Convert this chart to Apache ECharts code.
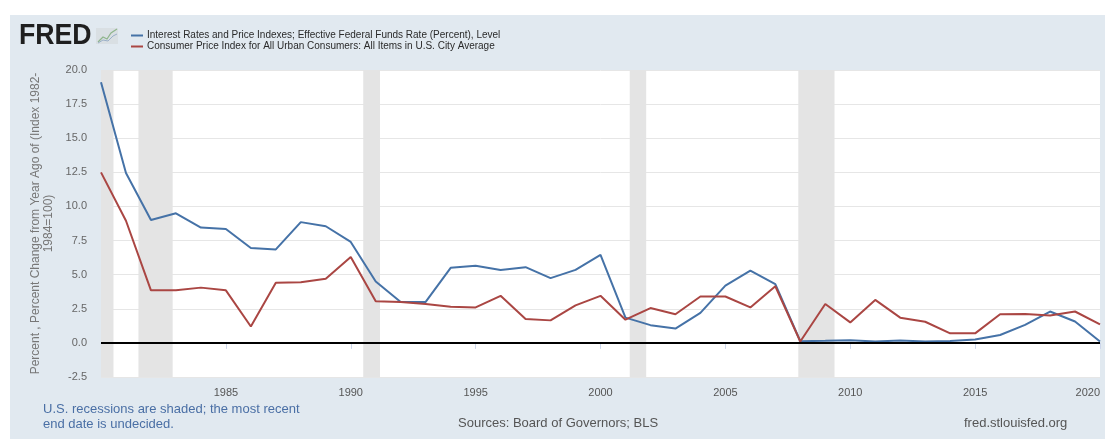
<!DOCTYPE html>
<html>
<head>
<meta charset="utf-8">
<script src="https://cdn.jsdelivr.net/npm/echarts@6/dist/echarts.min.js"></script>
<style>html,body{margin:0;padding:0;background:#fff;}#c{width:1105px;height:439px;}</style>
</head>
<body>
<div id="c"></div>
<script>
// Years (end-of-year observations)
const years = [1980,1981,1982,1983,1984,1985,1986,1987,1988,1989,1990,1991,1992,1993,1994,1995,1996,1997,1998,1999,2000,2001,2002,2003,2004,2005,2006,2007,2008,2009,2010,2011,2012,2013,2014,2015,2016,2017,2018,2019,2020];
// Effective Federal Funds Rate (Percent)
const fedFunds = [19.1,12.45,9.0,9.5,8.45,8.35,6.95,6.85,8.85,8.55,7.4,4.5,3.0,3.0,5.5,5.65,5.35,5.55,4.75,5.35,6.45,1.85,1.3,1.05,2.2,4.2,5.3,4.3,0.12,0.15,0.2,0.1,0.17,0.1,0.13,0.25,0.58,1.32,2.3,1.57,0.1];
// CPI, percent change from year ago
const cpi = [12.5,8.95,3.85,3.85,4.05,3.85,1.2,4.4,4.45,4.7,6.3,3.05,3.0,2.85,2.65,2.6,3.45,1.75,1.65,2.75,3.45,1.7,2.55,2.1,3.4,3.4,2.6,4.15,0.1,2.85,1.5,3.15,1.85,1.55,0.7,0.7,2.1,2.12,2.0,2.3,1.35];
// US recessions (fractional year start, end)
const recessions = [[1980.0,1980.5],[1981.5,1982.87],[1990.5,1991.17],[2001.17,2001.83],[2007.92,2009.37]];
const yTicks = {min:-2.5, max:20, step:2.5};
const seriesNames = ['Interest Rates and Price Indexes; Effective Federal Funds Rate (Percent), Level',
                     'Consumer Price Index for All Urban Consumers: All Items in U.S. City Average'];

const FONT = '"Liberation Sans", Arial, sans-serif';
const chart = echarts.init(document.getElementById('c'), null, {renderer:'canvas'});
chart.setOption({
  backgroundColor: '#ffffff',
  animation: false,
  graphic: [
    {type:'rect', z:-10, shape:{x:10, y:15, width:1095, height:424}, style:{fill:'#e1e9f0'}},
    {type:'text', x:19, y:21, scaleX:0.92, style:{text:'FRED', font:'bold 29px ' + FONT, fill:'#1f1f1f'}},
    {type:'rect', shape:{x:96, y:28, width:22, height:16}, style:{fill:'#d9dfe3'}},
    {type:'polyline', shape:{points:[[98,42],[103,37],[107,39],[111,33],[117,29]]}, style:{stroke:'#8fb58c', lineWidth:1.2, fill:null}},
    {type:'polyline', shape:{points:[[98,43],[103,40],[108,41],[113,36],[117,34]]}, style:{stroke:'#9bb0c8', lineWidth:1, fill:null}},
    {type:'text', left:43, top:402, style:{text:'U.S. recessions are shaded; the most recent\nend date is undecided.', font:'13px ' + FONT, fill:'#4a6fa5', lineHeight:15}},
    {type:'text', left:458, top:417, style:{text:'Sources: Board of Governors; BLS', font:'13px ' + FONT, fill:'#555'}},
    {type:'text', left:964, top:417, style:{text:'fred.stlouisfed.org', font:'13px ' + FONT, fill:'#555'}}
  ],
  legend: {
    orient:'vertical', left:131, top:30, padding:0, itemGap:0, itemWidth:12, itemHeight:2, icon:'rect',
    textStyle:{fontFamily:FONT, fontSize:10, color:'#2a2a2a', lineHeight:11, padding:[0,0,0,-1]},
    data: seriesNames
  },
  grid: {left:101, right:5, top:70, bottom:62, show:true, backgroundColor:'#ffffff', borderWidth:0, outerBoundsMode:'none', containLabel:false},
  xAxis: {
    type:'value', min:1980, max:2020, interval:5,
    axisLine:{show:true, lineStyle:{color:'#ccd6eb'}},
    axisTick:{show:true, length:6, lineStyle:{color:'#ccd6eb'}},
    axisLabel:{fontFamily:FONT, fontSize:11, color:'#555', margin:10, alignMaxLabel:'right', formatter:v => v === 1980 ? '' : String(v)},
    splitLine:{show:false}
  },
  yAxis: {
    type:'value', min:yTicks.min, max:yTicks.max, interval:yTicks.step,
    name:'Percent , Percent Change from Year Ago of (Index 1982-\n1984=100)',
    nameLocation:'middle', nameGap:44, nameRotate:90,
    nameTextStyle:{fontFamily:FONT, fontSize:12, color:'#777', lineHeight:13},
    axisLine:{show:false}, axisTick:{show:false},
    axisLabel:{fontFamily:FONT, fontSize:11, color:'#666', margin:14, formatter:v => v.toFixed(1)},
    splitLine:{lineStyle:{color:'#e6e6e6'}}
  },
  series: [
    {
      name: seriesNames[0], type:'line', showSymbol:false, symbol:'none',
      data: years.map((y,i) => [y, fedFunds[i]]),
      lineStyle:{color:'#4572a7', width:2}, itemStyle:{color:'#4572a7'}, z:3,
      markArea: {silent:true, itemStyle:{color:'#e4e4e4'}, data: recessions.map(r => [{xAxis:r[0]},{xAxis:r[1]}])},
      markLine: {silent:true, symbol:['none','none'], label:{show:false}, lineStyle:{color:'#000', width:2, type:'solid'}, data:[{yAxis:0}]}
    },
    {
      name: seriesNames[1], type:'line', showSymbol:false, symbol:'none',
      data: years.map((y,i) => [y, cpi[i]]),
      lineStyle:{color:'#aa4643', width:2}, itemStyle:{color:'#aa4643'}, z:3
    }
  ]
});
</script>
</body>
</html>
